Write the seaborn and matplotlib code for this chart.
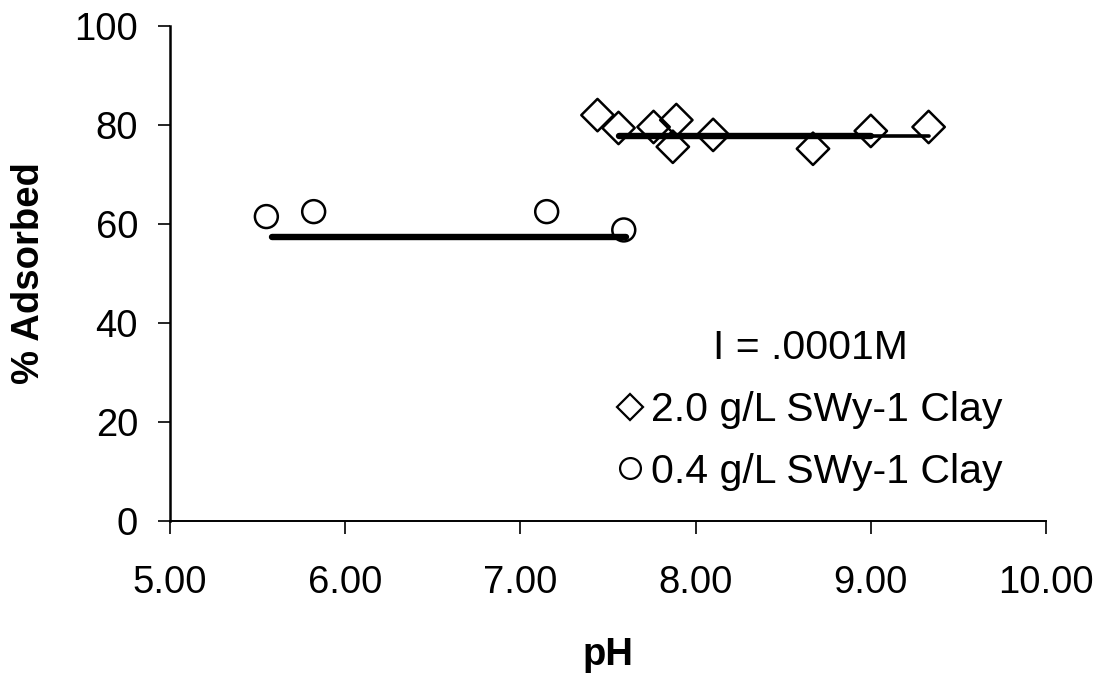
import matplotlib
matplotlib.use("Agg")
import matplotlib.pyplot as plt
from matplotlib.lines import Line2D
import seaborn as sns
import pandas as pd

# ---- data ----
ph_20 = [7.44, 7.56, 7.76, 7.89, 7.87, 8.10, 8.67, 9.00, 9.33]
ads_20 = [82.0, 79.4, 79.6, 81.0, 75.6, 78.0, 75.2, 78.8, 79.6]
ph_04 = [5.55, 5.82, 7.15, 7.59]
ads_04 = [61.5, 62.5, 62.5, 58.8]
# fitted mean lines
fit20_ph = [7.56, 9.00]
fit20_y = [77.8, 77.8]
fit20_ext_ph = [9.00, 9.33]
fit20_ext_y = [77.8, 77.8]
fit04_ph = [5.58, 7.60]
fit04_y = [57.4, 57.4]
xticks = [5.0, 6.0, 7.0, 8.0, 9.0, 10.0]
yticks = [0, 20, 40, 60, 80, 100]
label_20 = "2.0 g/L SWy-1 Clay"
label_04 = "0.4 g/L SWy-1 Clay"
legend_title = "I = .0001M"

sns.set_style("white")
plt.rcParams["font.family"] = ["Liberation Sans", "DejaVu Sans"]
plt.rcParams["text.color"] = "black"
plt.rcParams["axes.labelcolor"] = "black"
plt.rcParams["xtick.color"] = "black"
plt.rcParams["ytick.color"] = "black"

fig = plt.figure(figsize=(11.09, 6.78), dpi=100)
ax = fig.add_axes([170/1109, 1-521/678, (1046-170)/1109, (521-26)/678])

df20 = pd.DataFrame({"pH": ph_20, "ads": ads_20})
df04 = pd.DataFrame({"pH": ph_04, "ads": ads_04})

sns.lineplot(x=fit04_ph, y=fit04_y, ax=ax, color="black", linewidth=4.6, zorder=2)
sns.lineplot(x=fit20_ph, y=fit20_y, ax=ax, color="black", linewidth=4.6, zorder=2)
sns.lineplot(x=fit20_ext_ph, y=fit20_ext_y, ax=ax, color="black", linewidth=2.6, zorder=2)

sns.scatterplot(data=df20, x="pH", y="ads", ax=ax, marker="D", s=16.5**2,
                facecolor="none", edgecolor="black", linewidth=1.8, zorder=3)
sns.scatterplot(data=df04, x="pH", y="ads", ax=ax, marker="o", s=16.5**2,
                facecolor="none", edgecolor="black", linewidth=1.8, zorder=3)
for c in ax.collections:
    c.set_facecolor("none")

ax.set_xlim(5, 10)
ax.set_ylim(0, 100)
ax.set_xticks(xticks)
ax.set_xticklabels([f"{v:.2f}" for v in xticks])
ax.set_yticks(yticks)
ax.set_yticklabels([str(v) for v in yticks])
ax.set_xlabel("")
ax.set_ylabel("")

for s in ["top", "right"]:
    ax.spines[s].set_visible(False)
ax.spines["left"].set_linewidth(1.8)
ax.spines["bottom"].set_linewidth(1.4)
for s in ["left", "bottom"]:
    ax.spines[s].set_color("black")

ax.tick_params(axis="x", direction="out", length=9, width=1.2, pad=23,
               labelsize=27.5, colors="black", bottom=True)
ax.tick_params(axis="y", direction="out", length=9, width=1.2, pad=14,
               labelsize=27.5, colors="black", left=True)

fig.text(608/1109, 1-655/678, "pH", ha="center", va="center",
         fontsize=27.5, fontweight="bold", color="black")
fig.text(29/1109, 1-273/678, "% Adsorbed", ha="center", va="center",
         rotation=90, fontsize=27.5, fontweight="bold", color="black")

handles = [
    Line2D([], [], marker="D", ls="", mfc="none", mec="black", ms=13, mew=1.6),
    Line2D([], [], marker="o", ls="", mfc="none", mec="black", ms=15, mew=1.6),
]
leg = ax.legend(handles, [label_20, label_04], title=legend_title,
                frameon=False, loc="center",
                bbox_to_anchor=(810/1109, 1-410/678), bbox_transform=fig.transFigure,
                fontsize=29.5, title_fontsize=29.5, handlelength=0.6,
                handletextpad=0.2, labelspacing=0.58, borderpad=0.1)
for t in leg.get_texts():
    t.set_color("black")
leg.get_title().set_color("black")

fig.savefig("out.png", dpi=100)
